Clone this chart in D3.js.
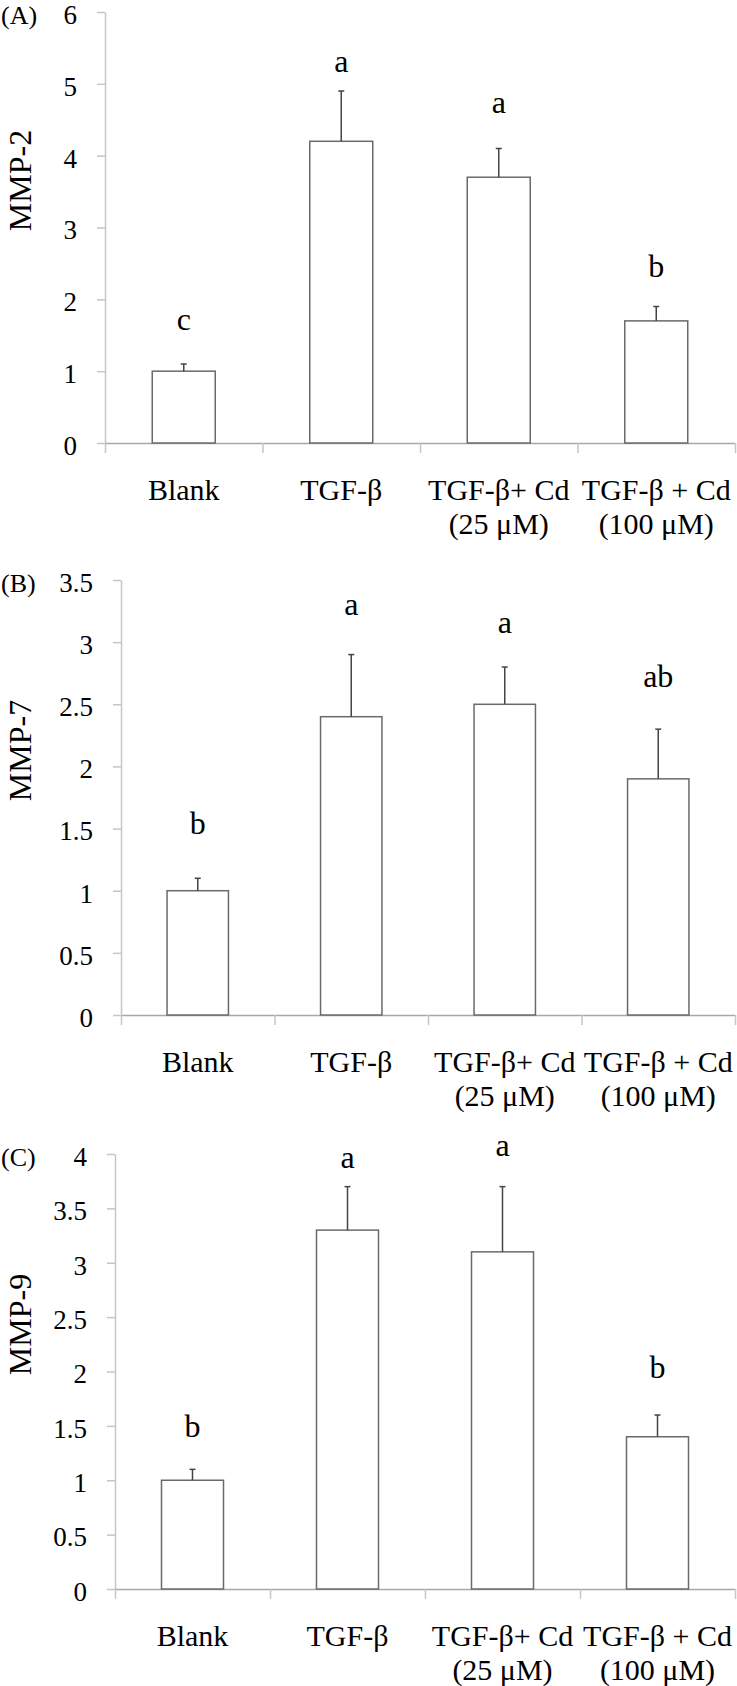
<!DOCTYPE html>
<html>
<head>
<meta charset="utf-8">
<script src="https://cdn.jsdelivr.net/npm/d3@7"></script>
<style>
  body { margin: 0; background: #fff; }
  svg { display: block; font-family: "Liberation Serif", "Times New Roman", serif; }
</style>
</head>
<body>
<svg width="737" height="1686"></svg>
<script>
// categories (two-line labels under the x axis)
const categories = ['Blank', 'TGF-β', 'TGF-β+ Cd (25 μM)', 'TGF-β + Cd (100 μM)'];
const categoryLines = [['Blank'], ['TGF-β'], ['TGF-β+ Cd', '(25 μM)'], ['TGF-β + Cd', '(100 μM)']];

// (A) MMP-2
const mmp2Mean = [1.0, 4.2, 3.7, 1.7];
const mmp2Err = [0.1, 0.7, 0.4, 0.2];
const mmp2Letters = ['c', 'a', 'a', 'b'];
const mmp2LetterAt = [1.57, 5.16, 4.59, 2.31];   // baseline of the letter, in axis units
const mmp2Ticks = [0, 1, 2, 3, 4, 5, 6];

// (B) MMP-7
const mmp7Mean = [1.0, 2.4, 2.5, 1.9];
const mmp7Err = [0.1, 0.5, 0.3, 0.4];
const mmp7Letters = ['b', 'a', 'a', 'ab'];
const mmp7LetterAt = [1.46, 3.22, 3.07, 2.64];
const mmp7Ticks = [0, 0.5, 1, 1.5, 2, 2.5, 3, 3.5];

// (C) MMP-9
const mmp9Mean = [1.0, 3.3, 3.1, 1.4];
const mmp9Err = [0.1, 0.4, 0.6, 0.2];
const mmp9Letters = ['b', 'a', 'a', 'b'];
const mmp9LetterAt = [1.40, 3.87, 3.98, 1.94];
const mmp9Ticks = [0, 0.5, 1, 1.5, 2, 2.5, 3, 3.5, 4];

// panel layout
const right = 735;
const panels = [
    { tag: '(A)', title: 'MMP-2', mean: mmp2Mean, err: mmp2Err, letters: mmp2Letters, letterAt: mmp2LetterAt, ticks: mmp2Ticks, left: 105, top: 12, bottom: 443 },
    { tag: '(B)', title: 'MMP-7', mean: mmp7Mean, err: mmp7Err, letters: mmp7Letters, letterAt: mmp7LetterAt, ticks: mmp7Ticks, left: 121, top: 580, bottom: 1015 },
    { tag: '(C)', title: 'MMP-9', mean: mmp9Mean, err: mmp9Err, letters: mmp9Letters, letterAt: mmp9LetterAt, ticks: mmp9Ticks, left: 115, top: 1154, bottom: 1589 }
];

const svg = d3.select('svg');
panels.forEach(drawPanel);

function drawPanel(p) {
    const g = svg.append('g');

    const y = d3.scaleLinear()
        .domain([0, d3.max(p.ticks)])
        .range([p.bottom, p.top]);

    // bars sit in the middle of each category slot
    const x = d3.scaleBand()
        .domain(categories)
        .range([p.left, right])
        .paddingInner(0.6)
        .paddingOuter(0.3);

    // slot edges for the x axis ticks
    const xEdge = d3.scaleLinear()
        .domain([0, categories.length])
        .range([p.left, right]);

    // y axis
    const yAxis = g.append('g')
        .attr('transform', `translate(${p.left},0)`)
        .call(d3.axisLeft(y)
            .tickValues(p.ticks)
            .tickFormat(d3.format('~g'))
            .tickSizeInner(8)
            .tickSizeOuter(0)
            .tickPadding(20))
        .attr('font-family', null)
        .attr('font-size', 27);
    yAxis.select('.domain').attr('stroke', '#c6c6c6').attr('stroke-width', 1.5);
    yAxis.selectAll('.tick line').attr('stroke', '#c6c6c6').attr('stroke-width', 1.5);
    yAxis.selectAll('.tick text').attr('fill', '#000').attr('dy', '0.42em');

    // x axis
    const xAxis = g.append('g')
        .attr('transform', `translate(0,${p.bottom})`)
        .call(d3.axisBottom(xEdge)
            .tickValues(d3.range(categories.length + 1))
            .tickFormat('')
            .tickSizeInner(10)
            .tickSizeOuter(0));
    xAxis.select('.domain').attr('stroke', '#a8a8a8').attr('stroke-width', 1.5);
    xAxis.selectAll('.tick line').attr('stroke', '#c6c6c6').attr('stroke-width', 1.5);

    // category labels
    const labels = g.append('g').selectAll('text').data(categories)
        .enter().append('text')
        .attr('text-anchor', 'middle')
        .attr('font-size', 30)
        .attr('fill', '#000');
    labels.each(function (c, i) {
        d3.select(this).selectAll('tspan').data(categoryLines[i])
            .enter().append('tspan')
            .attr('x', x(c) + x.bandwidth() / 2)
            .attr('y', (d, j) => p.bottom + 57 + j * 34)
            .text(d => d);
    });

    // bars
    g.append('g').selectAll('rect').data(categories)
        .enter().append('rect')
        .attr('x', c => x(c))
        .attr('y', (c, i) => y(p.mean[i]))
        .attr('width', x.bandwidth())
        .attr('height', (c, i) => p.bottom - y(p.mean[i]))
        .attr('fill', '#fff')
        .attr('stroke', '#6a6a6a')
        .attr('stroke-width', 1.5);

    // error bars (upper only)
    const eb = g.append('g').selectAll('g').data(categories)
        .enter().append('g')
        .attr('stroke', '#444')
        .attr('stroke-width', 1.5);
    eb.append('line')
        .attr('x1', c => x(c) + x.bandwidth() / 2)
        .attr('x2', c => x(c) + x.bandwidth() / 2)
        .attr('y1', (c, i) => y(p.mean[i]))
        .attr('y2', (c, i) => y(p.mean[i] + p.err[i]));
    eb.append('line')
        .attr('x1', c => x(c) + x.bandwidth() / 2 - 3)
        .attr('x2', c => x(c) + x.bandwidth() / 2 + 3)
        .attr('y1', (c, i) => y(p.mean[i] + p.err[i]))
        .attr('y2', (c, i) => y(p.mean[i] + p.err[i]));

    // significance letters
    g.append('g').selectAll('text').data(categories)
        .enter().append('text')
        .attr('x', c => x(c) + x.bandwidth() / 2)
        .attr('y', (c, i) => y(p.letterAt[i]))
        .attr('text-anchor', 'middle')
        .attr('font-size', 32)
        .attr('fill', '#000')
        .text((c, i) => p.letters[i]);

    // panel tag and y title
    g.append('text')
        .attr('x', 1)
        .attr('y', p.top + 12)
        .attr('font-size', 26)
        .attr('fill', '#000')
        .text(p.tag);

    g.append('text')
        .attr('transform', `translate(31,${(p.top + p.bottom) / 2 - 47}) rotate(-90)`)
        .attr('text-anchor', 'middle')
        .attr('font-size', 32)
        .attr('fill', '#000')
        .text(p.title);
}
</script>
</body>
</html>
